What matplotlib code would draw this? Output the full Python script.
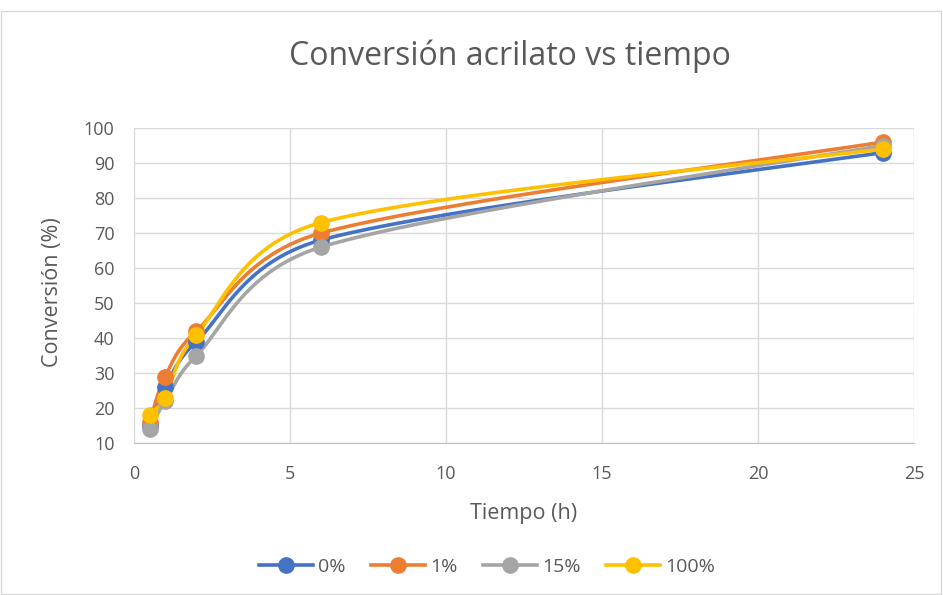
import numpy as np
import matplotlib
matplotlib.use("Agg")
import matplotlib.pyplot as plt
from matplotlib.patches import Rectangle
from matplotlib.lines import Line2D

plt.rcParams['font.family'] = ['Open Sans', 'DejaVu Sans']

tiempo = [0.5, 1, 2, 6, 24]
series_names = ['0%', '1%', '15%', '100%']
conv_0 = [15, 26, 39, 68, 93]
conv_1 = [16, 29, 42, 70, 96]
conv_15 = [14, 22, 35, 66, 95]
conv_100 = [18, 23, 41, 73, 94]
colors = ['#4472C4', '#ED7D31', '#A5A5A5', '#FFC000']
x_ticks = [0, 5, 10, 15, 20, 25]
y_ticks = [10, 20, 30, 40, 50, 60, 70, 80, 90, 100]

W, H = 943, 595
L, R, T, B = 134, 914, 128, 443
fig = plt.figure(figsize=(W / 100, H / 100), dpi=100)
ax = fig.add_axes([L / W, 1 - B / H, (R - L) / W, (B - T) / H])
ax.set_xlim(0, 25)
ax.set_ylim(10, 100)

# scales used for smoothing in display-like space
sx, sy = (R - L) / 25.0, (B - T) / 90.0


def smooth(xs, ys, n=60):
    """Excel-like smoothed line: cubic Bezier with tension 1/6, arms capped at half segment."""
    P = np.array([[x * sx, y * sy] for x, y in zip(xs, ys)])
    out = []
    for i in range(len(P) - 1):
        p0 = P[i - 1] if i > 0 else P[i]
        p1 = P[i]
        p2 = P[i + 1]
        p3 = P[i + 2] if i + 2 < len(P) else P[i + 1]
        d12 = np.linalg.norm(p2 - p1)
        v1 = (p2 - p0) / 6.0
        v2 = (p3 - p1) / 6.0
        n1, n2 = np.linalg.norm(v1), np.linalg.norm(v2)
        if n1 > d12 / 2 and n1 > 0:
            v1 = v1 * (d12 / 2) / n1
        if n2 > d12 / 2 and n2 > 0:
            v2 = v2 * (d12 / 2) / n2
        c1 = p1 + v1
        c2 = p2 - v2
        t = np.linspace(0, 1, n)[:, None]
        seg = ((1 - t) ** 3) * p1 + 3 * ((1 - t) ** 2) * t * c1 + 3 * (1 - t) * t ** 2 * c2 + t ** 3 * p2
        out.append(seg if i == 0 else seg[1:])
    out = np.vstack(out)
    return out[:, 0] / sx, out[:, 1] / sy


all_series = [conv_0, conv_1, conv_15, conv_100]
for name, vals, c in zip(series_names, all_series, colors):
    xs, ys = smooth(tiempo, vals)
    ax.plot(xs, ys, color=c, lw=2.6, solid_capstyle='round', zorder=3)
    ax.plot(tiempo, vals, 'o', color=c, ms=11, zorder=4)

ax.set_xticks(x_ticks)
ax.set_yticks(y_ticks)
ax.grid(True, color='#D9D9D9', lw=1)
ax.set_axisbelow(True)
for s in ['top', 'right', 'left']:
    ax.spines[s].set_visible(False)
ax.spines['bottom'].set_color('#BFBFBF')
ax.tick_params(axis='y', length=0, labelsize=13, colors='#595959', pad=14)
ax.tick_params(axis='x', length=0, labelsize=13, colors='#595959', pad=16)

fig.text(524 / W, 1 - 514 / H, 'Tiempo (h)', fontsize=15.5, color='#595959',
         ha='center', va='center')
fig.text(53 / W, 1 - 292 / H, 'Conversión (%)', fontsize=15.5, color='#595959',
         ha='center', va='center', rotation=90)

fig.text(510 / W, 1 - 56 / H, 'Conversión acrilato vs tiempo', fontsize=23,
         color='#595959', ha='center', va='center')

handles = [Line2D([0], [0], color=c, lw=2.6, marker='o', ms=11) for c in colors]
fig.legend(handles, series_names, loc='center', bbox_to_anchor=(487 / W, 1 - 567 / H),
           ncol=4, frameon=False, fontsize=14, labelcolor='#595959',
           handlelength=2.8, columnspacing=1.3, handletextpad=0.25)

fig.patches.append(Rectangle((1 / W, 1 / H), 1 - 3 / W, 1 - 12 / H, transform=fig.transFigure,
                             fill=False, edgecolor='#D9D9D9', lw=1))

fig.savefig('out.png', dpi=100)
